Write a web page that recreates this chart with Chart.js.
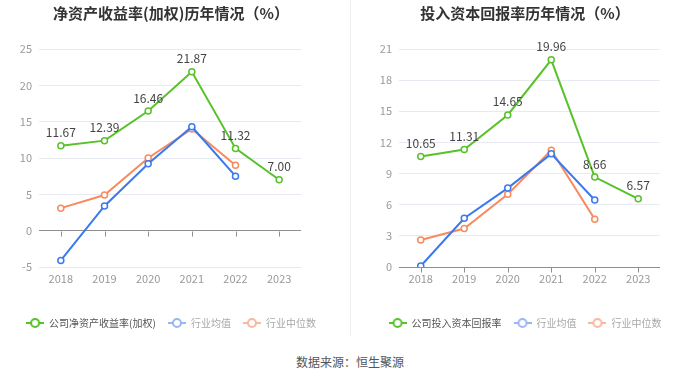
<!DOCTYPE html>
<html>
<head>
<meta charset="utf-8">
<script src="https://cdn.jsdelivr.net/npm/chart.js@4.4.1/dist/chart.umd.min.js"></script>
<style>
  html, body { margin: 0; padding: 0; background: #fff; width: 700px; height: 378px; overflow: hidden; }
  #wrapL { position: absolute; left: 0; top: 0; width: 350px; height: 345px; }
  #wrapR { position: absolute; left: 350px; top: 0; width: 350px; height: 345px; }
  #sep { position: absolute; left: 350px; top: 0; width: 1px; height: 336px; background: #eeeeee; }
  #src { position: absolute; left: 0; width: 700px; top: 353px; text-align: center;
         font: 12px "Noto Sans CJK SC", sans-serif; color: #555; }
</style>
</head>
<body>
<div id="wrapL"><canvas id="cL" width="350" height="345"></canvas></div>
<div id="sep"></div>
<div id="wrapR"><canvas id="cR" width="350" height="345"></canvas></div>
<div id="src">数据来源：恒生聚源</div>
<script>
// ---- data ----
const years = ['2018', '2019', '2020', '2021', '2022', '2023'];

const titleL = '净资产收益率(加权)历年情况（%）';
const roeCompany = [11.67, 12.39, 16.46, 21.87, 11.32, 7.00];
const roeIndustryAvg = [-4.1, 3.4, 9.2, 14.3, 7.5, null];
const roeIndustryMedian = [3.1, 4.9, 10.0, 14.0, 9.0, null];
const labelsL = ['公司净资产收益率(加权)', '行业均值', '行业中位数'];
const yTicksL = { min: -5, max: 25, step: 5 };

const titleR = '投入资本回报率历年情况（%）';
const roicCompany = [10.65, 11.31, 14.65, 19.96, 8.66, 6.57];
const roicIndustryAvg = [0.1, 4.7, 7.6, 10.9, 6.45, null];
const roicIndustryMedian = [2.6, 3.7, 7.0, 11.25, 4.6, null];
const labelsR = ['公司投入资本回报率', '行业均值', '行业中位数'];
const yTicksR = { min: 0, max: 21, step: 3 };

// ---- styles ----
const FONT = '"Noto Sans CJK SC", "Noto Sans", sans-serif';
const GREEN = '#57c22a', BLUE = '#3b79ee', ORANGE = '#f88a5d';
const legendColors = ['#57c22a', '#98b6f3', '#f9b89e'];
const legendText = ['#555555', '#a8a8a8', '#a8a8a8'];
const ZERO = '#8f8f8f', GRID = '#e7eaf1';

function markerImg(color) {
  const c = document.createElement('canvas');
  c.width = 18; c.height = 12;
  const g = c.getContext('2d');
  g.strokeStyle = color; g.lineWidth = 2;
  g.beginPath(); g.moveTo(0, 6); g.lineTo(18, 6); g.stroke();
  g.fillStyle = '#fff';
  g.beginPath(); g.arc(9, 6, 4, 0, Math.PI * 2); g.fill(); g.stroke();
  return c;
}

const valueLabels = {
  id: 'valueLabels',
  afterDatasetsDraw(chart) {
    const ctx = chart.ctx;
    const meta = chart.getDatasetMeta(0);
    const data = chart.data.datasets[0].data;
    ctx.save();
    ctx.font = '12px ' + FONT;
    ctx.fillStyle = '#444';
    ctx.textAlign = 'center';
    ctx.textBaseline = 'middle';
    meta.data.forEach((pt, i) => {
      if (data[i] == null) return;
      ctx.fillText(data[i].toFixed(2), pt.x, pt.y - 13);
    });
    ctx.restore();
  }
};

const zeroTicks = {
  id: 'zeroTicks',
  beforeDatasetsDraw(chart) {
    const ctx = chart.ctx;
    const x = chart.scales.x, y = chart.scales.y;
    const y0 = Math.round(y.getPixelForValue(0)) + 0.5;
    ctx.save();
    ctx.strokeStyle = ZERO; ctx.lineWidth = 1;
    ctx.beginPath();
    for (let i = 0; i < chart.data.labels.length; i++) {
      const px = Math.round(x.getPixelForValue(i)) + 0.5;
      ctx.moveTo(px, y0); ctx.lineTo(px, y0 + 5);
    }
    ctx.stroke();
    ctx.restore();
  }
};

function makeChart(id, title, labels, series, yt, leftW, rightPad, rightAxisW) {
  const colors = [GREEN, BLUE, ORANGE];
  const datasets = series.map((d, i) => ({
    label: labels[i],
    data: d,
    yAxisID: 'y',
    borderColor: colors[i],
    backgroundColor: '#fff',
    borderWidth: 2,
    pointRadius: 3,
    pointBorderWidth: 1.5,
    pointBackgroundColor: '#fff',
    pointBorderColor: colors[i],
    tension: 0
  }));
  return new Chart(document.getElementById(id), {
    type: 'line',
    data: { labels: years, datasets },
    plugins: [valueLabels, zeroTicks],
    options: {
      responsive: false,
      animation: false,
      events: [],
      layout: { padding: { left: 0, right: rightPad, top: 0, bottom: 7 } },
      plugins: {
        title: {
          display: true, text: title, color: '#333',
          font: { family: FONT, size: 15, weight: 'bold' },
          padding: { top: 4, bottom: 27 }
        },
        legend: {
          position: 'bottom',
          labels: {
            usePointStyle: true,
            pointStyleWidth: 18,
            padding: 12,
            font: { family: FONT, size: 10 },
            generateLabels(chart) {
              return chart.data.datasets.map((ds, i) => ({
                text: ds.label,
                pointStyle: markerImg(legendColors[i]),
                fontColor: legendText[i],
                fillStyle: '#fff',
                strokeStyle: legendColors[i],
                lineWidth: 0,
                hidden: false,
                datasetIndex: i
              }));
            }
          }
        },
        tooltip: { enabled: false }
      },
      scales: {
        x: {
          offset: true,
          grid: { display: false, drawTicks: false },
          border: { display: false },
          ticks: { color: '#999', font: { family: FONT, size: 11 }, padding: 5 },
          afterFit(s) { s.height = 39; }
        },
        y: {
          min: yt.min, max: yt.max,
          grid: {
            drawTicks: false,
            color: (c) => (c.tick && c.tick.value === 0 ? ZERO : GRID),
            lineWidth: 1
          },
          border: { display: false },
          ticks: { stepSize: yt.step, color: '#999', font: { family: FONT, size: 11 }, padding: 7 },
          afterFit(s) { s.width = leftW; }
        },
        pad: {
          type: 'linear',
          position: 'right',
          grid: { display: false, drawTicks: false },
          border: { display: false },
          ticks: { display: false },
          afterFit(s) { s.width = rightAxisW; }
        }
      }
    }
  });
}

makeChart('cL', titleL, labelsL, [roeCompany, roeIndustryAvg, roeIndustryMedian], yTicksL, 39, 8, 41);
makeChart('cR', titleR, labelsR, [roicCompany, roicIndustryAvg, roicIndustryMedian], yTicksR, 49, 0, 40);
</script>
</body>
</html>
